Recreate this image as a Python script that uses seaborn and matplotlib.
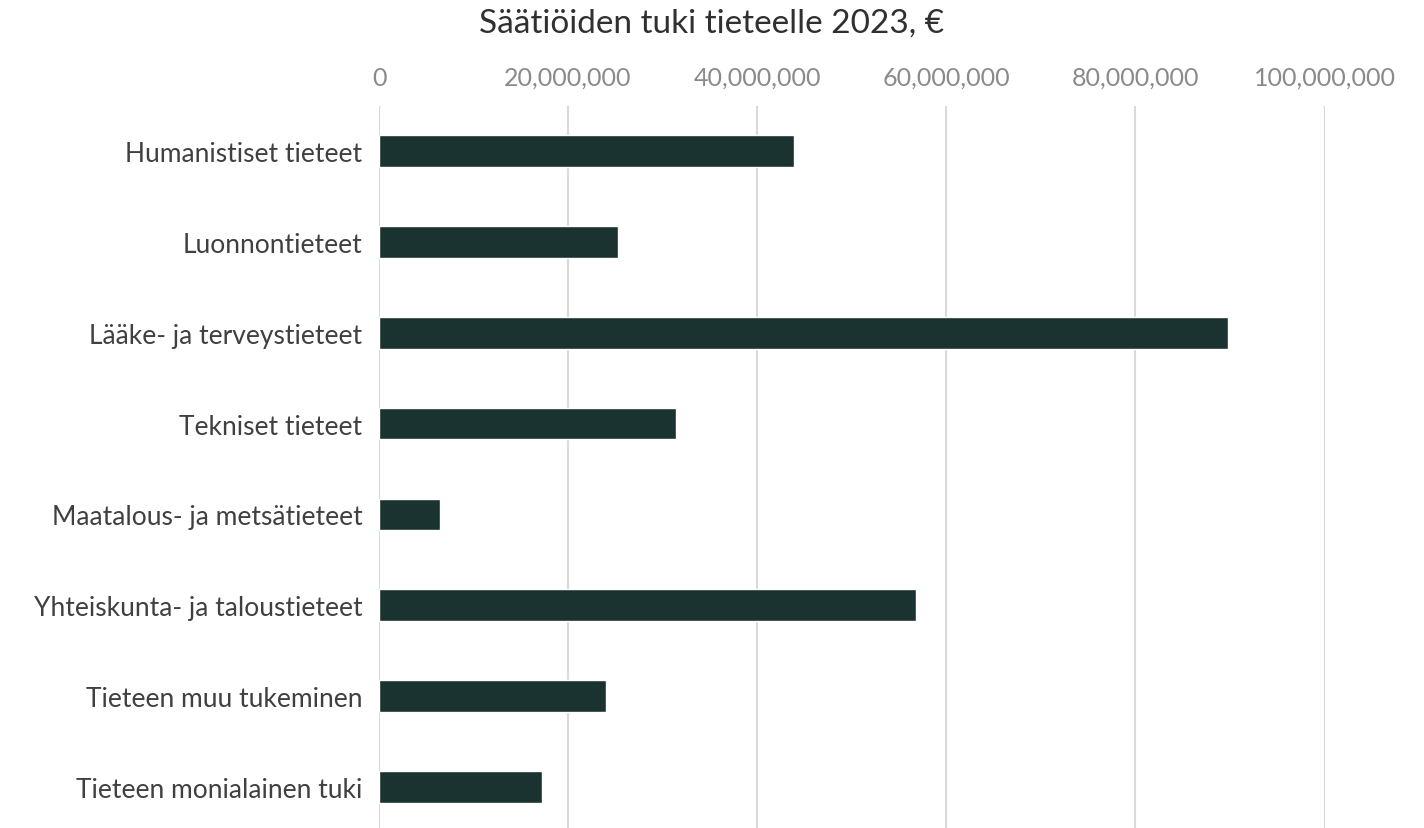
import matplotlib
matplotlib.use("Agg")
import matplotlib.pyplot as plt
import matplotlib.ticker as mticker
import seaborn as sns
import pandas as pd

categories = [
    "Humanistiset tieteet",
    "Luonnontieteet",
    "Lääke- ja terveystieteet",
    "Tekniset tieteet",
    "Maatalous- ja metsätieteet",
    "Yhteiskunta- ja taloustieteet",
    "Tieteen muu tukeminen",
    "Tieteen monialainen tuki",
]
values = [43_900_000, 25_300_000, 89_800_000, 31_400_000, 6_450_000, 56_800_000, 24_000_000, 17_200_000]
x_ticks = [0, 20_000_000, 40_000_000, 60_000_000, 80_000_000, 100_000_000]
title = "Säätiöiden tuki tieteelle 2023, €"

df = pd.DataFrame({"category": categories, "value": values})

sns.set_theme(style="white")
plt.rcParams["font.family"] = ["Lato", "DejaVu Sans"]

W, H = 1424, 829
fig = plt.figure(figsize=(W / 100, H / 100), dpi=100)
ax = fig.add_axes([379 / W, 0.0, (1324.5 - 379) / W, 1 - 106.5 / H])

sns.barplot(data=df, x="value", y="category", orient="h", color="#1b3330",
            saturation=1, width=0.35, ax=ax)

ax.set_xlim(0, 100_000_000)
ax.set_ylim(7 + (829 - 788) / 91, -0.5)
ax.set_xticks(x_ticks)
ax.xaxis.set_major_formatter(mticker.FuncFormatter(lambda v, p: f"{int(v):,}"))
ax.xaxis.tick_top()
ax.tick_params(axis="x", length=0, pad=12, labelsize=18, labelcolor="#8a8a8a")
ax.tick_params(axis="y", length=0, pad=12, labelsize=19, labelcolor="#404040")
ax.grid(axis="x", color="#d9d9d9", linewidth=1.5)
ax.set_axisbelow(True)
for s in ax.spines.values():
    s.set_visible(False)
ax.set_xlabel("")
ax.set_ylabel("")

fig.text(0.5, 1 - 24 / H, title, ha="center", va="center", fontsize=24, color="#303030")

fig.savefig("out.png", dpi=100)
